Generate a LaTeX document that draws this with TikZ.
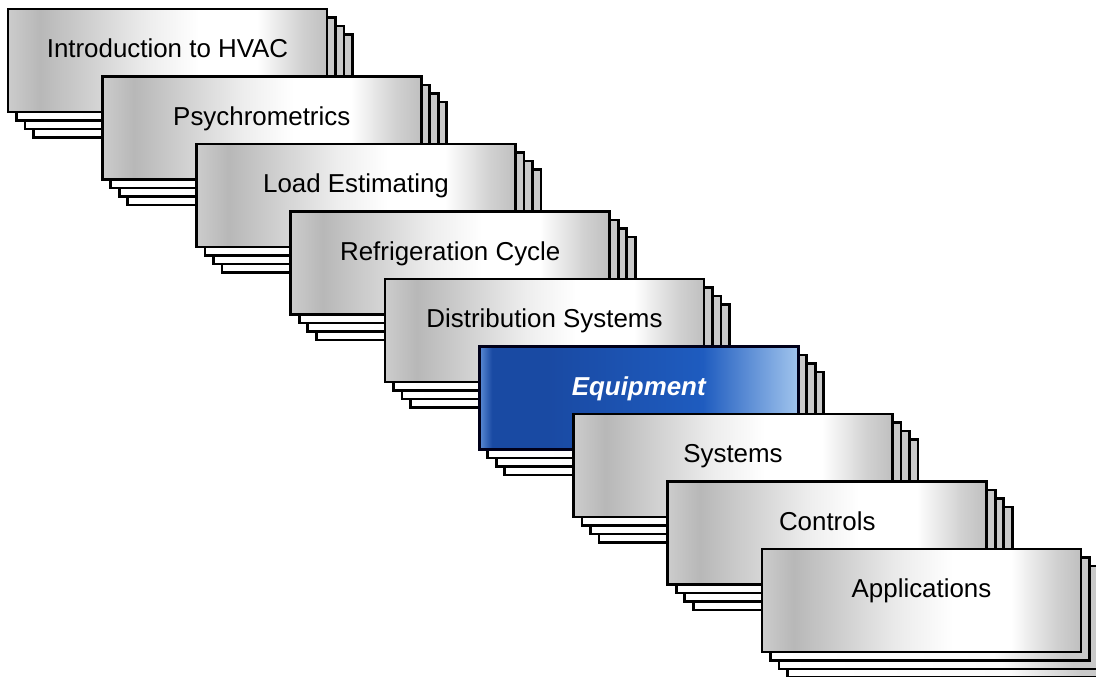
\documentclass[tikz,border=0pt]{standalone}
\usepackage{fontspec}
\setmainfont{Liberation Sans}
\definecolor{gA}{rgb}{0.80,0.80,0.80}
\definecolor{gB}{rgb}{0.72,0.72,0.72}
\definecolor{gE}{rgb}{0.93,0.93,0.93}
\definecolor{gC}{rgb}{1,1,1}
\definecolor{gF}{rgb}{0.82,0.82,0.82}
\definecolor{gD}{rgb}{0.75,0.75,0.75}
\definecolor{sA}{rgb}{1,1,1}
\definecolor{sB}{rgb}{0.98,0.98,0.98}
\definecolor{sC}{rgb}{0.79,0.79,0.79}
\definecolor{bA}{rgb}{0.36,0.55,0.84}
\definecolor{bB}{rgb}{0.10,0.29,0.64}
\definecolor{bC}{rgb}{0.12,0.36,0.75}
\definecolor{bD}{rgb}{0.63,0.77,0.93}
\pgfdeclarehorizontalshading{grayshade}{100bp}{color(0bp)=(gA); color(25bp)=(gA); color(30bp)=(gB); color(47bp)=(gE); color(55bp)=(gC); color(64bp)=(gC); color(71bp)=(gF); color(75bp)=(gD); color(100bp)=(gD)}
\pgfdeclarehorizontalshading{sheetshade}{100bp}{color(0bp)=(sA); color(25bp)=(sA); color(60bp)=(sB); color(71bp)=(sC); color(100bp)=(sC)}
\pgfdeclarehorizontalshading{blueshade}{100bp}{color(0bp)=(bA); color(25bp)=(bA); color(27bp)=(bB); color(36bp)=(bB); color(60bp)=(bC); color(75bp)=(bD); color(100bp)=(bD)}
\tikzset{
  sheet/.style={draw=black, line width=2.6bp, shading=sheetshade},
  mainbox/.style={draw=black, line width=2.6bp, shading=grayshade, rectangle,
    minimum width=319bp, minimum height=103bp, inner sep=0pt, outer sep=0pt, anchor=north west},
  bluebox/.style={mainbox, shading=blueshade, draw=black!90!blue},
  lbl/.style={font=\fontsize{26}{30}\selectfont, text=black, anchor=base, inner sep=0pt},
  bluelbl/.style={lbl, text=white, font=\fontsize{26}{30}\selectfont\bfseries\itshape}
}
\begin{document}
\begin{tikzpicture}[x=1bp,y=-1bp]
\useasboundingbox (0,0) rectangle (1096,677);
\clip (0,0) rectangle (1096,677);
\fill[white] (0,0) rectangle (1096,677);
\foreach \i/\txt in {0/Introduction to HVAC,1/Psychrometrics,2/Load Estimating,3/Refrigeration Cycle,4/Distribution Systems,5/Equipment,6/Systems,7/Controls,8/Applications}{
  \pgfmathsetmacro{\bx}{8+94.25*\i}
  \pgfmathsetmacro{\by}{9+67.5*\i}
  \foreach \k in {3,2,1}{
    \path[sheet] (\bx+8.5*\k,\by+8.5*\k) rectangle ++(319,103);
  }
  \ifnum\i=5
    \node[bluebox] (b\i) at (\bx,\by) {};
    \node[bluelbl] (t\i) at ([yshift=-48.5bp]b\i.north) {\txt};
  \else
    \node[mainbox] (b\i) at (\bx,\by) {};
    \node[lbl] (t\i) at ([yshift=-48.5bp]b\i.north) {\txt};
  \fi
}
\end{tikzpicture}
\end{document}
